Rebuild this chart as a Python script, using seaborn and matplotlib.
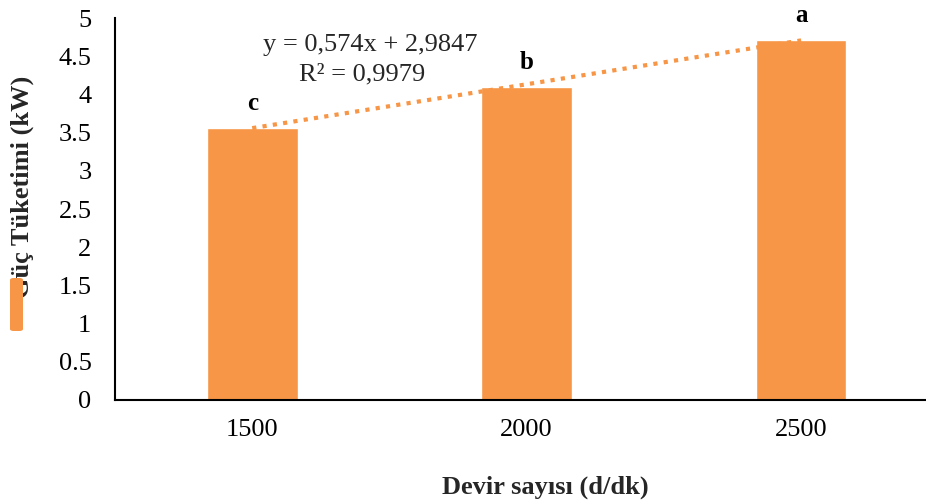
import numpy as np
import pandas as pd
import seaborn as sns
import matplotlib
matplotlib.use("Agg")
import matplotlib.pyplot as plt
from matplotlib.patches import FancyBboxPatch

# data
categories = ["1500", "2000", "2500"]
power_kw = [3.56, 4.10, 4.71]
letters = ["c", "b", "a"]
trend_slope = 0.574
trend_intercept = 2.9847
r_squared = "0,9979"
yticks = [0, 0.5, 1, 1.5, 2, 2.5, 3, 3.5, 4, 4.5, 5]

sns.set_theme(style="white")
plt.rcParams["font.family"] = ["Liberation Serif", "DejaVu Serif"]

W, H = 926, 504
fig = plt.figure(figsize=(W / 100, H / 100), dpi=100)
ax = fig.add_axes([115 / W, (H - 400) / H, (W - 115) / W, 382 / H])

color = "#F79646"
df = pd.DataFrame({"rpm": categories, "power": power_kw})
sns.barplot(data=df, x="rpm", y="power", order=categories, color=color,
            saturation=1, width=0.33, ax=ax, zorder=2)

# linear trendline (Excel style, x = 1..n)
xi = np.arange(1, len(categories) + 1)
ax.plot(xi - 1, trend_intercept + trend_slope * xi, linestyle=(0, (1, 1.5)),
        color=color, linewidth=3, zorder=3)

for i, (v, l) in enumerate(zip(power_kw, letters)):
    ax.text(i, v + 0.32, l, ha="center", va="center", fontsize=18,
            fontweight="bold", color="black")

ax.text(0.43, 4.65, "y = 0,574x + 2,9847", ha="center", va="center", fontsize=19)
ax.text(0.40, 4.26, "R² = " + r_squared, ha="center", va="center", fontsize=19)

ax.set_xlim(-0.5, 2.455)
ax.set_ylim(0, 5)
ax.set_yticks(yticks)
ax.set_yticklabels([f"{t:g}" for t in yticks])
ax.tick_params(axis="both", length=0, labelsize=19, colors="black")
ax.tick_params(axis="y", pad=17)
ax.tick_params(axis="x", pad=14)
ax.set_xlabel("")
ax.set_ylabel("")
for s in ["top", "right"]:
    ax.spines[s].set_visible(False)
for s in ["left", "bottom"]:
    ax.spines[s].set_color("black")
    ax.spines[s].set_linewidth(1.5)

fig.text(545 / W, (H - 487) / H, "Devir sayısı (d/dk)", ha="center", va="center",
         fontsize=19, fontweight="bold")
fig.text(22 / W, (H - 187) / H, "Güç Tüketimi (kW)", ha="center", va="center",
         rotation=90, fontsize=19, fontweight="bold")

rect = FancyBboxPatch((10 / W, (H - 331) / H), 13 / W, 53 / H,
                      boxstyle="round,pad=0,rounding_size=0.004",
                      transform=fig.transFigure, facecolor=color, edgecolor="none",
                      zorder=10)
fig.patches.append(rect)

fig.savefig("out.png", dpi=100)
